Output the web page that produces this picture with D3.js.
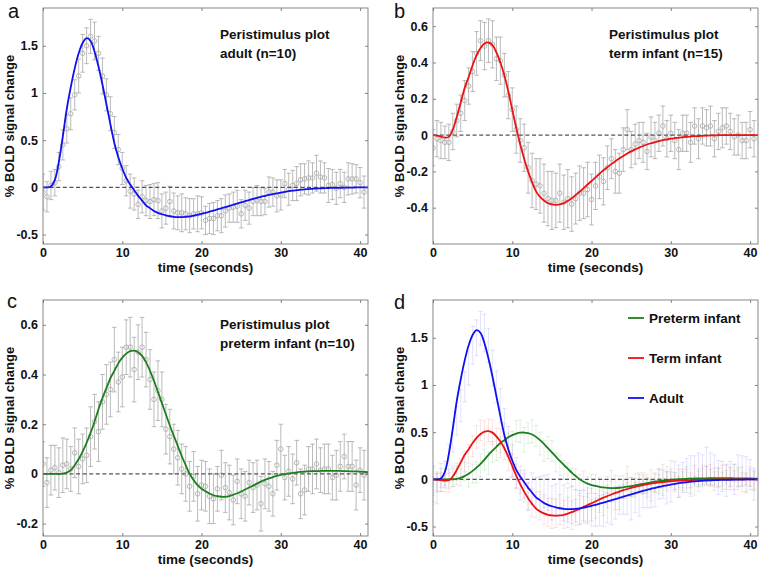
<!DOCTYPE html>
<html><head><meta charset="utf-8">
<script src="https://cdn.jsdelivr.net/npm/d3@7"></script>
<style>
body{margin:0;background:#fff}
svg{display:block}
text{font-family:"Liberation Sans",Arial,Helvetica,sans-serif}
</style>
</head><body>
<svg id="chart" width="762" height="568"></svg>
<script>
// ---------- data ----------
const times = [0,0.5,1,1.5,2,2.5,3,3.5,4,4.5,5,5.5,6,6.5,7,7.5,8,8.5,9,9.5,10,10.5,11,11.5,12,12.5,13,13.5,14,14.5,15,15.5,16,16.5,17,17.5,18,18.5,19,19.5,20,20.5,21,21.5,22,22.5,23,23.5,24,24.5,25,25.5,26,26.5,27,27.5,28,28.5,29,29.5,30,30.5,31,31.5,32,32.5,33,33.5,34,34.5,35,35.5,36,36.5,37,37.5,38,38.5,39,39.5,40,40.5,41];

// fitted responses (sampled every 0.5 s)
const adultFit = [0,0,0.01,0.08,0.27,0.54,0.83,1.06,1.26,1.42,
  1.53,1.58,1.55,1.44,1.28,1.09,0.88,0.67,0.47,0.32,
  0.20,0.10,0.03,-0.03,-0.09,-0.14,-0.19,-0.22,-0.25,-0.27,
  -0.285,-0.297,-0.306,-0.312,-0.315,-0.315,-0.313,-0.308,-0.30,-0.29,
  -0.28,-0.27,-0.258,-0.246,-0.234,-0.222,-0.21,-0.197,-0.184,-0.171,
  -0.158,-0.146,-0.134,-0.122,-0.111,-0.1,-0.09,-0.08,-0.071,-0.063,
  -0.055,-0.048,-0.041,-0.035,-0.03,-0.025,-0.021,-0.018,-0.015,-0.012,
  -0.01,-0.008,-0.007,-0.006,-0.005,-0.004,-0.003,-0.002,-0.002,-0.001,
  -0.001,0,0];
const termFit = [0,-0.003,-0.008,-0.014,-0.01,0.03,0.10,0.18,0.26,0.32,
  0.385,0.44,0.48,0.505,0.51,0.495,0.455,0.40,0.33,0.24,
  0.14,0.04,-0.05,-0.13,-0.2,-0.26,-0.31,-0.34,-0.36,-0.375,
  -0.382,-0.384,-0.382,-0.375,-0.363,-0.348,-0.33,-0.312,-0.292,-0.272,
  -0.253,-0.233,-0.213,-0.194,-0.177,-0.16,-0.144,-0.129,-0.115,-0.102,
  -0.09,-0.079,-0.069,-0.06,-0.052,-0.045,-0.039,-0.033,-0.028,-0.024,
  -0.02,-0.017,-0.014,-0.012,-0.01,-0.008,-0.006,-0.005,-0.004,-0.003,
  -0.002,-0.002,-0.001,0,0,0,0,0,0,0,
  0,0,0];
const pretermFit = [0,0,0,0,0,0.001,0.005,0.015,0.035,0.06,
  0.09,0.125,0.165,0.21,0.26,0.305,0.345,0.385,0.415,0.445,
  0.468,0.484,0.494,0.496,0.49,0.475,0.45,0.415,0.375,0.33,
  0.285,0.24,0.195,0.153,0.113,0.072,0.035,0,-0.025,-0.045,
  -0.06,-0.07,-0.079,-0.086,-0.09,-0.092,-0.092,-0.089,-0.084,-0.078,
  -0.071,-0.063,-0.055,-0.047,-0.039,-0.031,-0.024,-0.018,-0.013,-0.008,
  -0.004,-0.001,0.002,0.004,0.006,0.008,0.009,0.01,0.011,0.011,
  0.012,0.012,0.012,0.012,0.012,0.012,0.011,0.011,0.01,0.01,
  0.009,0.008,0.007];

// peristimulus means and standard errors (every 0.5 s, 0 - 40.5 s)
const adultMean = [-0.05,-0.10,0.02,0.05,0.22,0.45,0.62,0.78,0.98,1.18,
  1.42,1.50,1.60,1.55,1.42,1.18,0.98,0.78,0.58,0.40,
  0.20,0.07,-0.04,-0.07,-0.18,-0.10,-0.14,-0.15,-0.13,-0.14,
  -0.25,-0.22,-0.15,-0.25,-0.27,-0.27,-0.28,-0.30,-0.28,-0.28,
  -0.27,-0.35,-0.33,-0.33,-0.30,-0.30,-0.25,-0.22,-0.21,-0.20,
  -0.28,-0.19,-0.22,-0.15,-0.14,-0.15,-0.15,-0.05,-0.05,-0.09,
  -0.08,0.04,-0.02,0.02,0.04,0.08,0.09,0.10,0.10,0.15,
  0.11,0.10,0.02,0.03,-0.01,0.04,0.0,0.09,0.09,0.09,
  0.05,-0.05];
const adultErr = [0.19,0.16,0.15,0.14,0.15,0.16,0.15,0.17,0.16,0.18,
  0.2,0.19,0.18,0.2,0.18,0.19,0.17,0.18,0.17,0.16,
  0.17,0.16,0.18,0.17,0.15,0.17,0.16,0.18,0.17,0.19,
  0.18,0.17,0.16,0.19,0.18,0.2,0.17,0.18,0.16,0.19,
  0.17,0.15,0.16,0.17,0.16,0.18,0.17,0.15,0.16,0.17,
  0.15,0.16,0.17,0.15,0.16,0.15,0.14,0.16,0.15,0.17,
  0.16,0.15,0.17,0.16,0.18,0.17,0.16,0.18,0.16,0.19,
  0.17,0.16,0.18,0.16,0.17,0.15,0.16,0.17,0.16,0.15,
  0.16,0.17];
const termMean = [-0.07,-0.02,-0.03,-0.04,-0.04,0.02,0.08,0.12,0.19,0.27,
  0.35,0.45,0.52,0.49,0.52,0.50,0.42,0.41,0.33,0.22,
  0.14,0.03,-0.03,-0.07,-0.18,-0.25,-0.27,-0.28,-0.32,-0.35,
  -0.36,-0.36,-0.32,-0.37,-0.35,-0.38,-0.35,-0.32,-0.32,-0.30,
  -0.355,-0.28,-0.23,-0.255,-0.18,-0.13,-0.20,-0.21,-0.08,0.03,
  -0.08,-0.05,-0.03,-0.04,-0.09,-0.01,-0.03,0.01,0.05,-0.02,
  0.01,-0.03,-0.08,0.01,0.01,-0.04,0.05,-0.02,0.05,0.04,
  0.05,-0.02,0.02,0.04,0.05,0.02,-0.01,0.0,-0.03,-0.03,
  0.03,-0.02];
const termErr = [0.1,0.1,0.1,0.09,0.1,0.1,0.09,0.1,0.11,0.1,
  0.11,0.12,0.11,0.13,0.12,0.13,0.12,0.13,0.12,0.13,
  0.12,0.13,0.12,0.13,0.14,0.15,0.14,0.15,0.16,0.15,
  0.16,0.15,0.16,0.15,0.16,0.15,0.14,0.15,0.14,0.15,
  0.14,0.13,0.12,0.13,0.12,0.11,0.12,0.11,0.12,0.11,
  0.1,0.11,0.1,0.11,0.1,0.11,0.1,0.1,0.11,0.1,
  0.1,0.1,0.11,0.1,0.1,0.11,0.1,0.11,0.1,0.1,
  0.11,0.1,0.1,0.11,0.1,0.1,0.1,0.11,0.1,0.1,
  0.1,0.1];
const pretermMean = [0.04,-0.035,0.015,0.025,0.005,0.035,0.04,0.02,0.085,0.03,
  0.06,0.075,0.15,0.21,0.17,0.29,0.32,0.34,0.46,0.37,
  0.39,0.51,0.51,0.42,0.49,0.51,0.46,0.38,0.30,0.335,
  0.30,0.18,0.15,0.10,0.065,0.02,0.0,-0.05,-0.01,-0.08,
  -0.045,-0.05,-0.09,-0.1,-0.06,-0.005,-0.055,-0.075,-0.105,-0.03,
  -0.08,-0.09,-0.035,-0.055,-0.045,-0.12,-0.04,-0.05,-0.08,0.035,
  0.1,-0.015,0.01,-0.02,0.045,-0.08,-0.065,0.02,0.02,0.04,
  0.015,0.02,0.02,-0.015,-0.005,0.03,0.07,0.03,0.03,-0.045,
  0.015,-0.005];
const pretermErr = [0.09,0.1,0.1,0.09,0.1,0.11,0.1,0.09,0.1,0.11,
  0.1,0.11,0.12,0.11,0.12,0.11,0.12,0.11,0.13,0.12,
  0.12,0.11,0.12,0.13,0.11,0.12,0.11,0.12,0.11,0.12,
  0.11,0.1,0.11,0.1,0.11,0.1,0.11,0.1,0.1,0.11,
  0.1,0.1,0.11,0.1,0.09,0.1,0.1,0.11,0.1,0.09,
  0.1,0.1,0.09,0.1,0.1,0.11,0.1,0.1,0.09,0.1,
  0.1,0.09,0.1,0.1,0.09,0.1,0.1,0.09,0.1,0.1,
  0.09,0.1,0.1,0.09,0.1,0.1,0.09,0.1,0.1,0.1,
  0.09,0.1];

const xTicks = [0,10,20,30,40];
const yTicksAdult = [-0.5,0,0.5,1,1.5];
const yTicksTerm = [-0.4,-0.2,0,0.2,0.4,0.6];
const yTicksPreterm = [-0.2,0,0.2,0.4,0.6];
const yLabel = "% BOLD signal change";
const xLabel = "time (seconds)";
const legendLabels = ["Preterm infant","Term infant","Adult"];

// ---------- drawing ----------
const svg = d3.select("#chart");
const W = 325, H = 236;
const colors = {adult:"#1010f0", term:"#ee1111", preterm:"#1d7f1d"};
const dataTimes = times.slice(0, adultMean.length);

function makePanel(opt){
  const g = svg.append("g").attr("transform",`translate(${opt.left},${opt.top})`);
  const x = d3.scaleLinear().domain([0,41]).range([0,W]);
  const y = d3.scaleLinear().domain(opt.yDomain).range([H,0]);
  const cid = "clip"+opt.id;
  g.append("clipPath").attr("id",cid).append("rect").attr("width",W).attr("height",H);
  const plot = g.append("g").attr("clip-path",`url(#${cid})`);

  const fmt = d => String(d);
  g.append("g").attr("transform",`translate(0,${H})`)
    .call(d3.axisBottom(x).tickValues(xTicks).tickSize(-3).tickPadding(4).tickFormat(fmt));
  g.append("g")
    .call(d3.axisLeft(y).tickValues(opt.yTicks).tickSize(-3).tickPadding(5).tickFormat(fmt));
  g.append("g").call(d3.axisTop(x).tickValues(xTicks).tickSize(-3).tickFormat(""));
  g.append("g").attr("transform",`translate(${W},0)`)
    .call(d3.axisRight(y).tickValues(opt.yTicks).tickSize(-3).tickFormat(""));
  g.selectAll(".domain").remove();
  g.selectAll(".tick line").attr("stroke","#666").attr("stroke-width",0.8);
  g.selectAll(".tick text").attr("font-size","12.5px").attr("font-weight","bold")
    .attr("fill","#111").style("font-family",'"Liberation Sans",Arial,sans-serif');

  return {g, plot, x, y};
}

function errorBars(p, means, errs, color, opacity, circles){
  const eg = p.plot.append("g").attr("stroke",color).attr("stroke-opacity",opacity)
    .attr("stroke-width",0.9).attr("fill","none");
  means.forEach((m,i)=>{
    const t = dataTimes[i], e = errs[i];
    const cx = p.x(t);
    eg.append("line").attr("x1",cx).attr("x2",cx).attr("y1",p.y(m-e)).attr("y2",p.y(m+e));
    eg.append("line").attr("x1",cx-2.3).attr("x2",cx+2.3).attr("y1",p.y(m-e)).attr("y2",p.y(m-e));
    eg.append("line").attr("x1",cx-2.3).attr("x2",cx+2.3).attr("y1",p.y(m+e)).attr("y2",p.y(m+e));
  });
  if(circles){
    p.plot.append("g").selectAll("circle").data(means).join("circle")
      .attr("cx",(d,i)=>p.x(dataTimes[i])).attr("cy",d=>p.y(d)).attr("r",2.3)
      .attr("fill","none").attr("stroke","#a8a8a8").attr("stroke-width",0.8);
  }
}

function zeroLine(p){
  p.plot.append("line").attr("x1",p.x(0)).attr("x2",p.x(41)).attr("y1",p.y(0)).attr("y2",p.y(0))
    .attr("stroke","#555").attr("stroke-width",1.3).attr("stroke-dasharray","4,2.6");
}

const line = (p) => d3.line().x((d,i)=>p.x(times[i])).y(d=>p.y(d)).curve(d3.curveCatmullRom.alpha(0.5));
function fitCurve(p, vals, color){
  p.plot.append("path").datum(vals).attr("d",line(p)).attr("fill","none")
    .attr("stroke",color).attr("stroke-width",1.8);
}

function frame(p){
  p.g.append("rect").attr("width",W).attr("height",H).attr("fill","none")
    .attr("stroke","#7a7a7a").attr("stroke-width",0.9);
}

function labels(p, letter, lx, ly){
  p.g.append("text").attr("x",W/2).attr("y",H+28).attr("text-anchor","middle")
    .attr("font-size","13.5px").attr("font-weight","bold").attr("fill","#111").text(xLabel);
  p.g.append("text").attr("transform",`translate(-29,${H/2}) rotate(-90)`).attr("text-anchor","middle")
    .attr("font-size","13px").attr("font-weight","bold").attr("fill","#111").text(yLabel);
  svg.append("text").attr("x",lx).attr("y",ly).attr("font-size","20px").attr("fill","#111").text(letter);
}

function note(p, lines, dx, dy){
  lines.forEach((s,i)=>{
    p.g.append("text").attr("x",dx).attr("y",dy+i*19).attr("font-size","13.5px")
      .attr("font-weight","bold").attr("fill","#111").text(s);
  });
}

// Panel a
const pa = makePanel({id:"a",left:43,top:8,yDomain:[-0.6,1.9],yTicks:yTicksAdult});
errorBars(pa, adultMean, adultErr, "#a0a0a0", 0.8, true);
zeroLine(pa);
fitCurve(pa, adultFit, colors.adult);
frame(pa);
labels(pa, "a", 8, 18);
note(pa, ["Peristimulus plot","adult (n=10)"], 177, 31);

// Panel b
const pb = makePanel({id:"b",left:433,top:8,yDomain:[-0.6,0.7],yTicks:yTicksTerm});
errorBars(pb, termMean, termErr, "#a0a0a0", 0.8, true);
zeroLine(pb);
fitCurve(pb, termFit, colors.term);
frame(pb);
labels(pb, "b", 394, 18);
note(pb, ["Peristimulus plot","term infant (n=15)"], 176, 31);

// Panel c
const pc = makePanel({id:"c",left:43,top:300,yDomain:[-0.25,0.7],yTicks:yTicksPreterm});
errorBars(pc, pretermMean, pretermErr, "#a0a0a0", 0.8, true);
zeroLine(pc);
fitCurve(pc, pretermFit, colors.preterm);
frame(pc);
labels(pc, "c", 7, 308);
note(pc, ["Peristimulus plot","preterm infant (n=10)"], 177, 29);

// Panel d
const pd = makePanel({id:"d",left:433,top:300,yDomain:[-0.6,1.9],yTicks:yTicksAdult});
errorBars(pd, adultMean, adultErr, colors.adult, 0.13, false);
errorBars(pd, termMean, termErr, colors.term, 0.13, false);
errorBars(pd, pretermMean, pretermErr, colors.preterm, 0.13, false);
zeroLine(pd);
fitCurve(pd, pretermFit, colors.preterm);
fitCurve(pd, termFit, colors.term);
fitCurve(pd, adultFit, colors.adult);
frame(pd);
labels(pd, "d", 394, 309);

const legendColors = [colors.preterm, colors.term, colors.adult];
const lg = pd.g.append("g").attr("transform","translate(195,18)");
legendLabels.forEach((s,i)=>{
  lg.append("line").attr("x1",0).attr("x2",16).attr("y1",i*40).attr("y2",i*40)
    .attr("stroke",legendColors[i]).attr("stroke-width",1.8);
  lg.append("text").attr("x",21).attr("y",i*40+5).attr("font-size","13.5px")
    .attr("font-weight","bold").attr("fill","#111").text(s);
});
</script>
</body></html>
